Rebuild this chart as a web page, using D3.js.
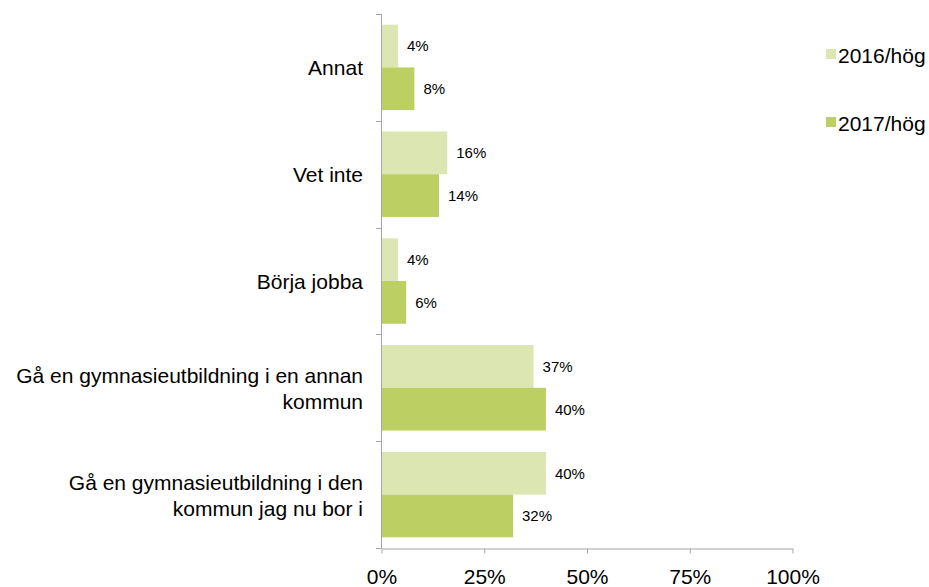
<!DOCTYPE html>
<html>
<head>
<meta charset="utf-8">
<script src="https://cdn.jsdelivr.net/npm/d3@7"></script>
<style>
  html, body { margin: 0; padding: 0; background: #ffffff; }
  svg { display: block; font-family: "Liberation Sans", Arial, sans-serif; }
</style>
</head>
<body>
<svg id="chart" width="929" height="587"></svg>
<script>
// Answer categories, top to bottom (each may wrap onto two lines)
const categories = [
  ["Annat"],
  ["Vet inte"],
  ["Börja jobba"],
  ["Gå en gymnasieutbildning i en annan", "kommun"],
  ["Gå en gymnasieutbildning i den", "kommun jag nu bor i"]
];
const seriesNames = ["2016/hög", "2017/hög"];
const values2016 = [4, 16, 4, 37, 40];
const values2017 = [8, 14, 6, 40, 32];
const xTicks = [0, 25, 50, 75, 100];

const colors = ["#dce6b2", "#bbcf63"];
const axisColor = "#a6a6a6";

const svg = d3.select("#chart");

const x = d3.scaleLinear().domain([0, 100]).range([381.5, 792.5]);
const y = d3.scaleBand()
  .domain(d3.range(categories.length))
  .range([14, 548])
  .paddingInner(0.2)
  .paddingOuter(0.1);
const sub = d3.scaleBand().domain([0, 1]).range([0, y.bandwidth()]);

const series = [values2016, values2017];

// Bars
series.forEach((vals, s) => {
  svg.append("g").selectAll("rect")
    .data(vals)
    .join("rect")
    .attr("x", x(0))
    .attr("y", (d, i) => y(i) + sub(s))
    .attr("width", d => x(d) - x(0))
    .attr("height", sub.bandwidth())
    .attr("fill", colors[s]);
});

// Value labels
series.forEach((vals, s) => {
  svg.append("g").selectAll("text")
    .data(vals)
    .join("text")
    .attr("x", d => x(d) + 9)
    .attr("y", (d, i) => y(i) + sub(s) + sub.bandwidth() / 2)
    .attr("dy", "0.36em")
    .attr("font-size", 15)
    .attr("fill", "#000")
    .text(d => d + "%");
});

// Category axis: vertical line with ticks at group boundaries
const step = y.step();
const yAxis = svg.append("g").attr("stroke", axisColor).attr("stroke-width", 1);
yAxis.append("line")
  .attr("x1", 381.5).attr("x2", 381.5)
  .attr("y1", 14).attr("y2", 548.5);
yAxis.selectAll("line.tick")
  .data(d3.range(categories.length + 1))
  .join("line")
  .attr("class", "tick")
  .attr("x1", 376).attr("x2", 381.5)
  .attr("y1", i => Math.round(14 + i * step) + 0.5)
  .attr("y2", i => Math.round(14 + i * step) + 0.5);

// Category labels
const catLabels = svg.append("g")
  .attr("text-anchor", "end")
  .attr("font-size", 21)
  .attr("fill", "#000");
categories.forEach((lines, i) => {
  const cy = y(i) + y.bandwidth() / 2;
  const lh = 26;
  const t = catLabels.append("text");
  lines.forEach((ln, k) => {
    t.append("tspan")
      .attr("x", 363)
      .attr("y", cy + 8 + (k - (lines.length - 1) / 2) * lh)
      .text(ln);
  });
});

// Value axis along the bottom
const xAxis = d3.axisBottom(x)
  .tickValues(xTicks)
  .tickSize(5)
  .tickSizeOuter(0)
  .tickFormat(d => d + "%");
const gx = svg.append("g")
  .attr("transform", "translate(0,548.5)")
  .call(xAxis);
gx.select(".domain").attr("stroke", axisColor);
gx.selectAll(".tick line").attr("stroke", axisColor);
gx.selectAll(".tick text")
  .attr("font-size", 21)
  .attr("font-family", "Liberation Sans, Arial, sans-serif")
  .attr("fill", "#000")
  .attr("y", 0)
  .attr("dy", null)
  .attr("transform", "translate(0,35.5)");

// Legend
const legend = svg.append("g");
seriesNames.forEach((name, s) => {
  const ly = 49 + s * 68;
  legend.append("rect")
    .attr("x", 826).attr("y", ly)
    .attr("width", 10).attr("height", 10)
    .attr("fill", colors[s]);
  legend.append("text")
    .attr("x", 838).attr("y", ly + 13.7)
    .attr("font-size", 21)
    .attr("fill", "#000")
    .text(name);
});
</script>
</body>
</html>
